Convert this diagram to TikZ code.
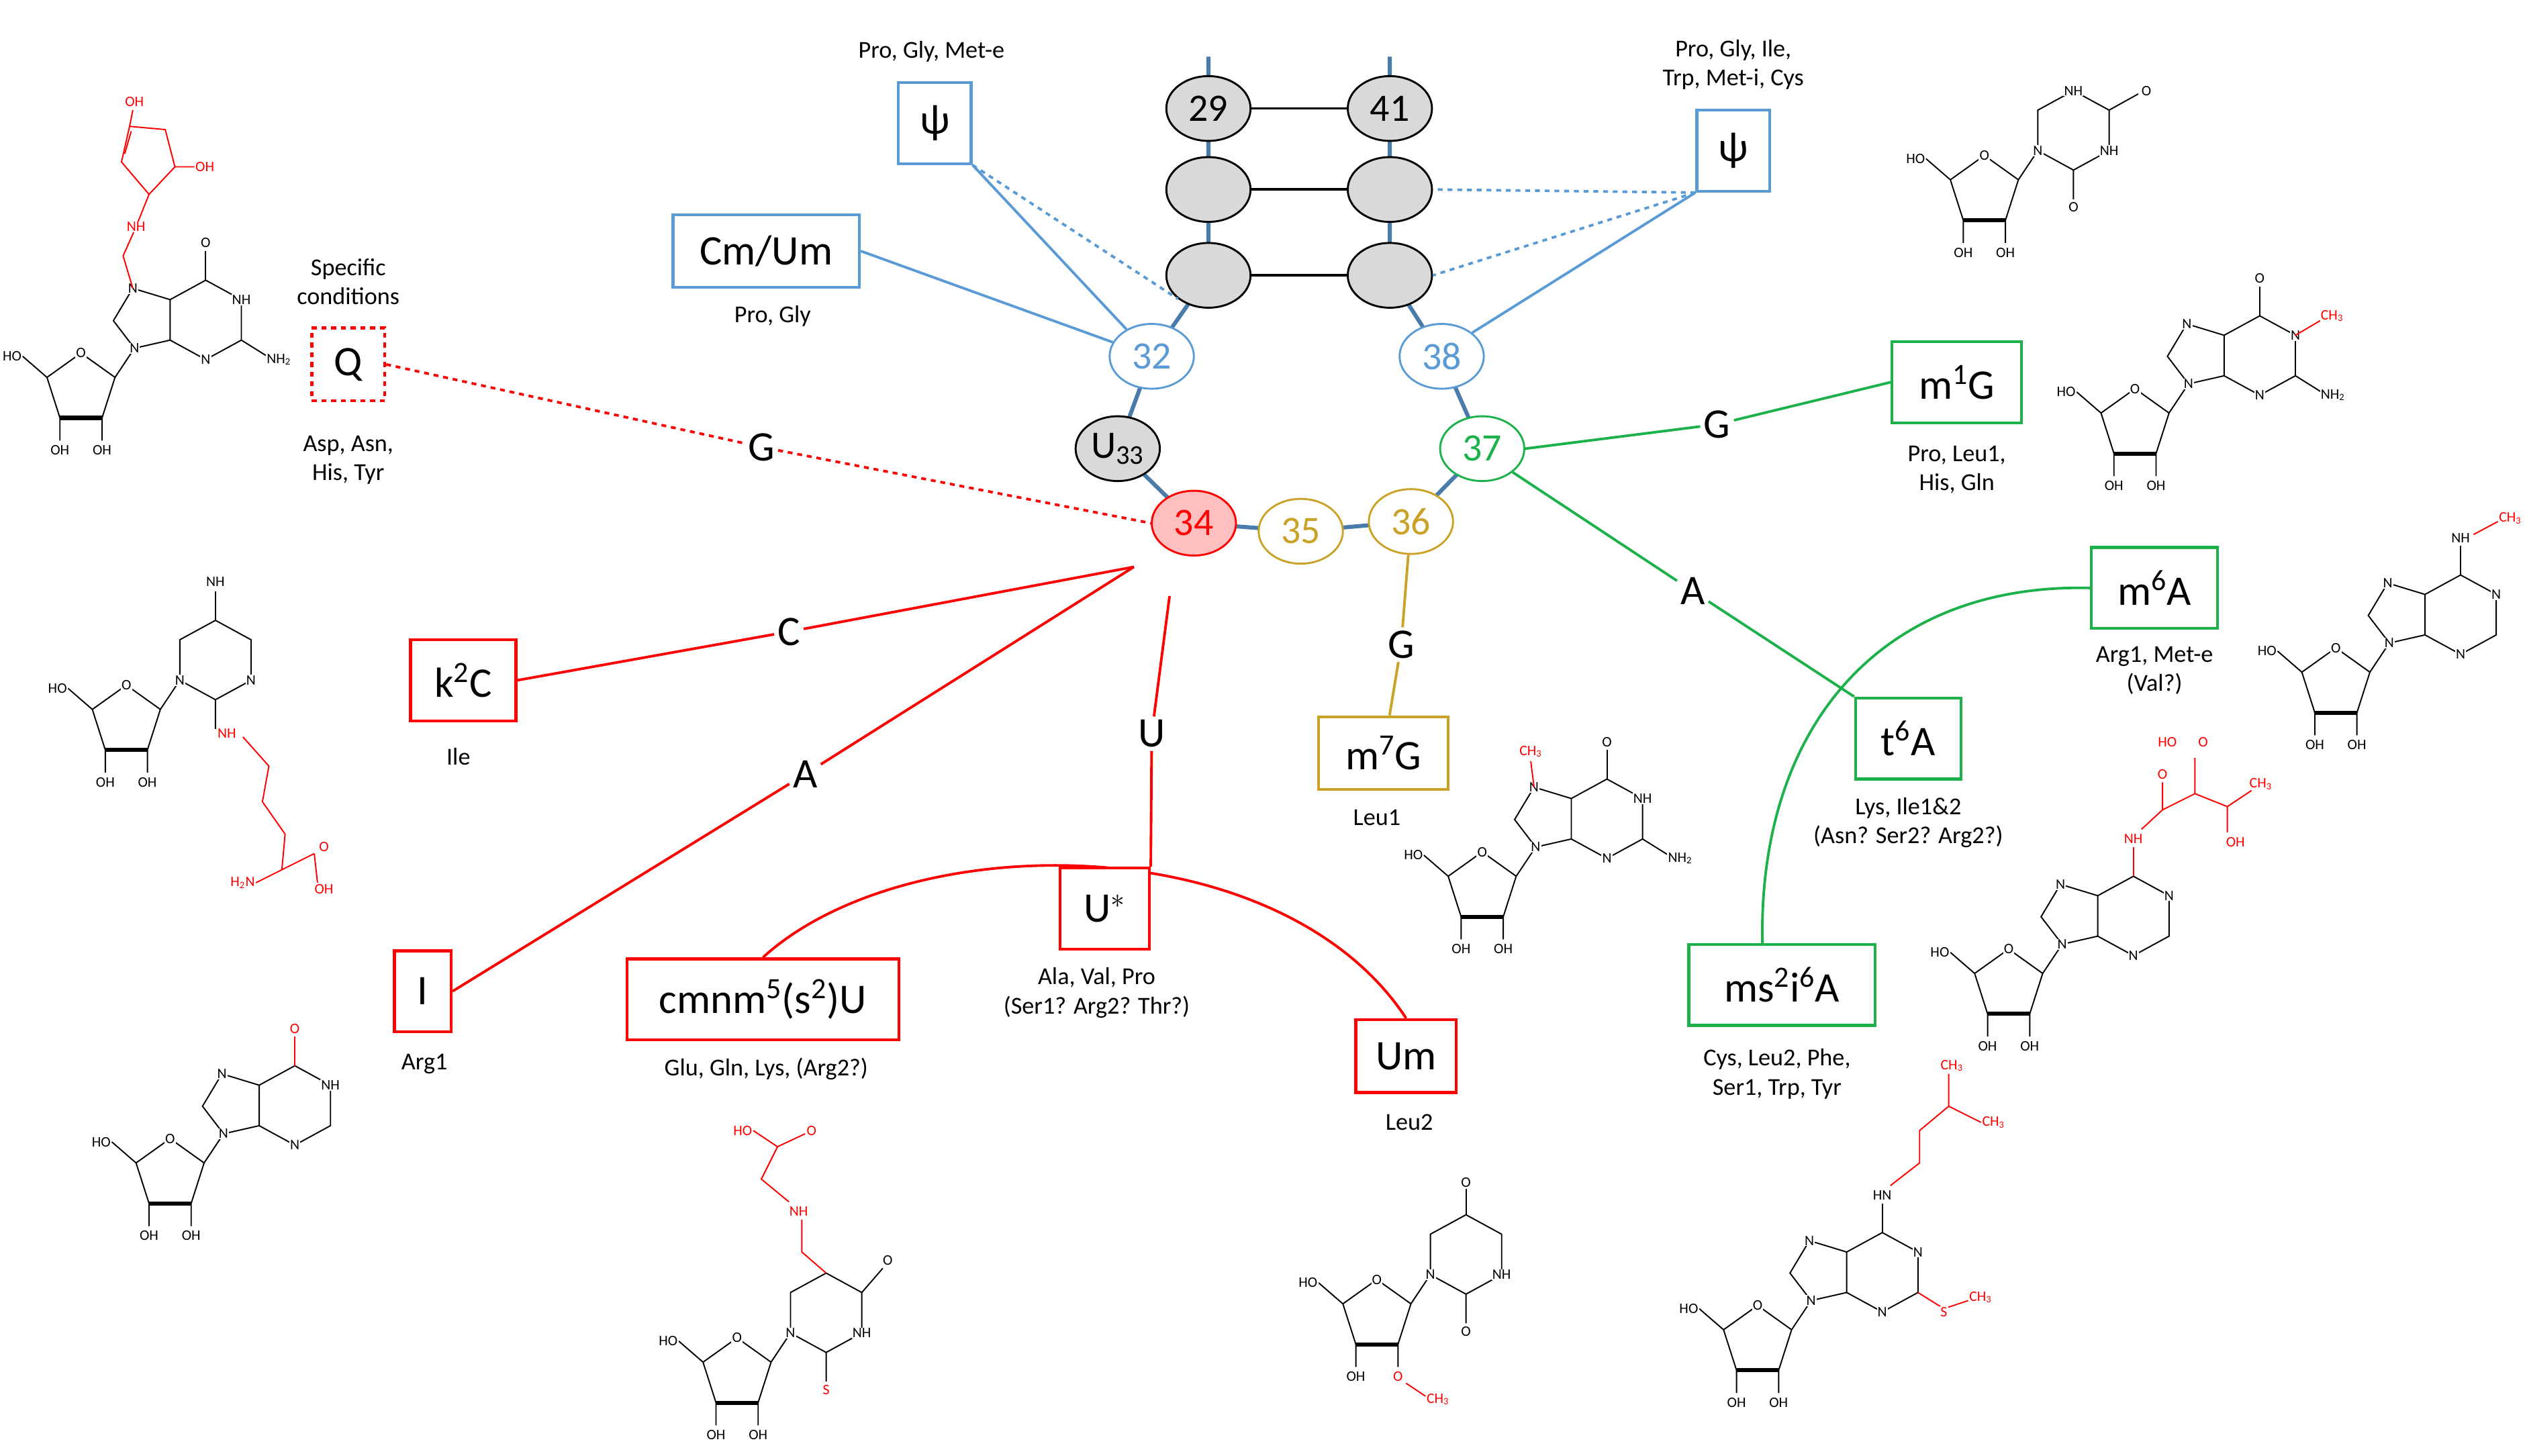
\documentclass[tikz,border=0pt]{standalone}
\usepackage{fontspec}
\usetikzlibrary{shapes.geometric}
\setmainfont{Carlito}
\begin{document}
\begin{tikzpicture}[x=1pt,y=-1pt,
 bl/.style={draw=blueM,line width=1.6pt},
 rd/.style={draw=redM,line width=1.6pt},
 gn/.style={draw=greenM,line width=1.6pt},
 gd/.style={draw=goldM,line width=1.6pt},
 box/.style={rectangle,line width=1.8pt,fill=white,font=\fontsize{26}{28}\selectfont,inner sep=0pt},
 ov/.style={ellipse,draw=black,fill=gray!30,line width=1.2pt,minimum width=52,minimum height=40,inner sep=0pt,font=\fontsize{24}{26}\selectfont},
 lab/.style={font=\fontsize{15}{18}\selectfont,align=center},
 big/.style={font=\fontsize{26}{28}\selectfont,fill=white,inner sep=2pt},
 ch/.style={font=\fontsize{9}{10}\selectfont,inner sep=0.5pt,fill=white},
 rch/.style={ch,text=redM},
 bd/.style={line width=0.8pt},
 rbd/.style={line width=0.8pt,draw=redM},
 rib/.pic={\draw[bd] (0,-22)--(21,-7)--(13,18)--(-13,18)--(-21,-7)--cycle (-21,-7)--(-36,-20) (-13,18)--(-13,32) (13,18)--(13,32) (21,-7)--(33,-25);
   \draw[line width=2.5pt] (-13,18)--(13,18);
   \node[ch] at (0,-22){O}; \node[ch,anchor=east] at (-36,-20){HO};
   \node[ch] at (-13,38){OH}; \node[ch] at (13,38){OH};},
 ribm/.pic={\draw[bd] (0,-22)--(21,-7)--(13,18)--(-13,18)--(-21,-7)--cycle (-21,-7)--(-36,-20) (-13,18)--(-13,32) (13,18)--(13,32) (21,-7)--(33,-25);
   \draw[line width=2.5pt] (-13,18)--(13,18);
   \node[ch] at (0,-22){O}; \node[ch,anchor=east] at (-36,-20){HO};
   \node[ch] at (-13,38){OH}; \node[rch] at (13,38){O};},
 pur/.pic={\draw[bd] (33,-25)--(55,-30)--(55,-55)--(32,-62)--(20,-42)--cycle (55,-55)--(77,-67)--(99,-55)--(99,-30)--(77,-18)--(55,-30);
   \node[ch] at (33,-25){N}; \node[ch] at (32,-62){N}; \node[ch] at (99,-55){N}; \node[ch] at (77,-18){N};},
 pyr/.pic={\draw[bd] (33,-25)--(55,-13)--(77,-25)--(77,-50)--(55,-62)--(33,-50)--cycle (55,-13)--(55,5);
   \node[ch] at (33,-25){N}; \node[ch] at (77,-25){N};},
]
\definecolor{blueM}{HTML}{5B9BD5}\definecolor{redM}{HTML}{FF0000}
\definecolor{greenM}{HTML}{1DB14B}\definecolor{goldM}{HTML}{C9A227}
\useasboundingbox (0,0) rectangle (1560,898.6);
% backbone
\draw[draw=blueM!80!black,line width=2.5pt] (746,35)--(746,170)--(711,220)--(690,277)--(737,323)--(803,328)--(871,322)--(915,277)--(890,220)--(858,170)--(858,35);
\foreach \y in {67,117,170} \draw[line width=1.5pt] (746,\y)--(858,\y);
\node[ov] (n29) at (746,67){29}; \node[ov] (n41) at (858,67){41};
\node[ov] (a1) at (746,117){}; \node[ov] (b1) at (858,117){};
\node[ov] (a2) at (746,170){}; \node[ov] (b2) at (858,170){};
\node[ov,draw=blueM,fill=white,text=blueM] (n32) at (711,220){32};
\node[ov] (n33) at (690,277){U\textsubscript{33}};
\node[ov,draw=redM,fill=red!25,text=redM] (n34) at (737,323){34};
\node[ov,draw=goldM,fill=white,text=goldM] (n35) at (803,328){35};
\node[ov,draw=goldM,fill=white,text=goldM] (n36) at (871,322){36};
\node[ov,draw=greenM,fill=white,text=greenM] (n37) at (915,277){37};
\node[ov,draw=blueM,fill=white,text=blueM] (n38) at (890,220){38};
% blue
\node[box,draw=blueM,minimum width=45,minimum height=50] (psiL) at (577,76){ψ};
\node[lab] at (575,32){Pro, Gly, Met-e};
\node[box,draw=blueM,minimum width=115,minimum height=45] (cm) at (473,155){Cm/Um};
\node[lab] at (477,195){Pro, Gly};
\node[box,draw=blueM,minimum width=45,minimum height=50] (psiR) at (1070,93){ψ};
\node[lab] at (1070,40){Pro, Gly, Ile,\\Trp, Met-i, Cys};
\draw[bl] (psiL.south east)--(n32); \draw[bl] (cm.east)--(n32);
\draw[bl,dashed] (psiL.south east)--(a2.south west);
\draw[bl,dashed] (psiR.south west)--(b1.east); \draw[bl,dashed] (psiR.south west)--(b2.east);
\draw[bl] (psiR.south west)--(n38.north east);
% red
\node[box,draw=redM,dashed,minimum width=45,minimum height=45] (q) at (215,225){Q};
\node[lab] at (215,174){Specific\\conditions};
\node[lab] at (215,284){Asp, Asn,\\His, Tyr};
\node[big] (gQ) at (470,276){G};
\draw[rd,dashed] (q.east)--(gQ)--(n34.west);
\coordinate (r0) at (700,350);
\node[big] (cC) at (487,390){C};
\node[box,draw=redM,minimum width=65,minimum height=50] (k2c) at (286,420){k\textsuperscript{2}C};
\node[lab] at (283,467){Ile};
\draw[rd] (r0)--(cC)--(k2c.east);
\node[big] (aA) at (497,478){A};
\node[box,draw=redM,minimum width=35,minimum height=50] (ii) at (261,612){I};
\node[lab] at (262,657){Arg1};
\draw[rd] (r0)--(aA)--(ii.east);
\node[big] (uU) at (711,453){U};
\node[box,draw=redM,minimum width=55,minimum height=50] (us) at (682,561){U$^{*}$};
\node[lab] at (677,613){Ala, Val, Pro\\(Ser1? Arg2? Thr?)};
\draw[rd] (722,368)--(uU)--(us.north east);
\node[box,draw=redM,minimum width=168,minimum height=50] (cmn) at (471,617){cmnm\textsuperscript{5}(s\textsuperscript{2})U};
\node[lab] at (473,660){Glu, Gln, Lys, (Arg2?)};
\node[box,draw=redM,minimum width=62,minimum height=45] (um) at (868,652){Um};
\node[lab] at (870,693){Leu2};
\draw[rd] (cmn.north)..controls (560,510) and (790,510) ..(um.north);
\node[box,draw=redM,minimum width=55,minimum height=50] at (682,561){U$^{*}$};
% gold
\node[big] (gG) at (865,398){G};
\node[box,draw=goldM,minimum width=80,minimum height=45] (m7g) at (854,465){m\textsuperscript{7}G};
\node[lab] at (850,505){Leu1};
\draw[gd] (n36)--(gG)--(m7g);
% green
\node[big] (g1) at (1060,262){G};
\node[box,draw=greenM,minimum width=80,minimum height=50] (m1g) at (1208,236){m\textsuperscript{1}G};
\node[lab] at (1208,290){Pro, Leu1,\\His, Gln};
\draw[gn] (n37.east)--(g1)--(m1g.west);
\node[big] (aG) at (1045,365){A};
\node[box,draw=greenM,minimum width=78,minimum height=50] (m6a) at (1330,363){m\textsuperscript{6}A};
\node[lab] at (1330,414){Arg1, Met-e\\(Val?)};
\node[box,draw=greenM,minimum width=115,minimum height=50] (ms) at (1100,608){ms\textsuperscript{2}i\textsuperscript{6}A};
\node[lab] at (1097,663){Cys, Leu2, Phe,\\Ser1, Trp, Tyr};
\coordinate (msT) at (1088,583);
\draw[gn] (m6a.west)..controls (1160,360) and (1085,450) ..(msT);
\node[box,draw=greenM,minimum width=65,minimum height=50] (t6a) at (1178,456){t\textsuperscript{6}A};
\node[lab] at (1178,508){Lys, Ile1\&2\\(Asn? Ser2? Arg2?)};
\draw[gn] (n37.south east)--(aG)--(t6a.north west);
% ---- structures ----
% Q
\begin{scope}[shift={(50,240)}]
\pic{rib}; \pic{pur};
\draw[bd] (77,-67)--(77,-85); \node[ch] at (77,-90){O}; \node[ch] at (99,-55){NH};
\draw[bd] (99,-30)--(115,-20); \node[ch,anchor=west] at (114,-18){NH\textsubscript{2}};
\draw[rbd] (32,-62)--(26,-82)--(34,-100)--(42,-120);
\node[rch] at (34,-100){NH};
\draw[rbd] (42,-120)--(25,-140)--(30,-162)--(52,-160)--(58,-137)--cycle (30,-162)--(32,-172) (58,-137)--(70,-137);
\draw[rbd] (27,-145)--(31,-159);
\node[rch] at (33,-177){OH}; \node[rch,anchor=west] at (70,-137){OH};
\end{scope}
% pseudouridine
\begin{scope}[shift={(1225,118)}]
\pic{rib}; \pic{pyr};
\node[ch] at (55,10){O}; \node[ch] at (77,-25){NH}; \node[ch] at (55,-62){NH};
\draw[bd] (77,-50)--(95,-60); \node[ch] at (100,-62){O};
\end{scope}
% m1G
\begin{scope}[shift={(1318,262)}]
\pic{rib}; \pic{pur};
\draw[bd] (77,-67)--(77,-85); \node[ch] at (77,-90){O};
\draw[rbd] (99,-55)--(116,-65); \node[rch,anchor=west] at (114,-67){CH\textsubscript{3}};
\draw[bd] (99,-30)--(115,-20); \node[ch,anchor=west] at (114,-18){NH\textsubscript{2}};
\end{scope}
% k2C
\begin{scope}[shift={(78,445)}]
\pic{rib}; \pic{pyr};
\draw[bd] (55,-62)--(55,-80); \node[ch] at (55,-86){NH};
\node[rch] at (62,8){NH};
\draw[rbd] (72,10)--(88,28)--(84,50)--(98,70)--(96,92);
\draw[rbd] (96,92)--(80,100) (96,92)--(116,82) (116,82)--(118,100);
\node[rch,anchor=east] at (80,100){H\textsubscript{2}N}; \node[rch] at (122,78){O}; \node[rch] at (122,104){OH};
\end{scope}
% m6A
\begin{scope}[shift={(1442,422)}]
\pic{rib}; \pic{pur};
\draw[bd] (77,-67)--(77,-85); \node[ch] at (77,-90){NH};
\draw[rbd] (85,-92)--(100,-100); \node[rch,anchor=west] at (100,-102){CH\textsubscript{3}};
\end{scope}
% t6A
\begin{scope}[shift={(1240,608)}]
\pic{rib}; \pic{pur};
\draw[rbd] (77,-67)--(77,-85); \node[rch] at (77,-90){NH};
\draw[rbd] (82,-96)--(95,-108)--(95,-125) (95,-108)--(115,-118)--(115,-140) (115,-118)--(135,-110)--(150,-120) (135,-110)--(135,-94);
\node[rch] at (95,-130){O}; \node[rch] at (98,-150){HO}; \node[rch] at (120,-150){O};
\node[rch,anchor=west] at (148,-124){CH\textsubscript{3}}; \node[rch] at (140,-88){OH};
\end{scope}
% m7G
\begin{scope}[shift={(915,548)}]
\pic{rib}; \pic{pur};
\draw[rbd] (32,-62)--(30,-78); \node[rch] at (30,-84){CH\textsubscript{3}};
\draw[bd] (77,-67)--(77,-85); \node[ch] at (77,-90){O}; \node[ch] at (99,-55){NH};
\draw[bd] (99,-30)--(115,-20); \node[ch,anchor=west] at (114,-18){NH\textsubscript{2}};
\end{scope}
% inosine
\begin{scope}[shift={(105,725)}]
\pic{rib}; \pic{pur};
\draw[rbd] (77,-67)--(77,-85); \node[rch] at (77,-90){O}; \node[ch] at (99,-55){NH};
\end{scope}
% cmnm5s2U
\begin{scope}[shift={(455,848)}]
\pic{rib}; \pic{pyr};
\node[rch] at (55,10){S}; \node[ch] at (77,-25){NH};
\draw[bd] (77,-50)--(90,-65); \node[ch] at (93,-70){O};
\draw[rbd] (55,-62)--(40,-75)--(40,-95); \node[rch] at (38,-100){NH};
\draw[rbd] (32,-106)--(15,-120)--(25,-140) (25,-140)--(10,-150) (25,-140)--(42,-148);
\node[rch,anchor=east] at (10,-150){HO}; \node[rch] at (46,-150){O};
\end{scope}
% Um
\begin{scope}[shift={(850,812)}]
\pic{ribm}; \pic{pyr};
\node[ch] at (55,10){O}; \node[ch] at (77,-25){NH};
\draw[bd] (55,-62)--(55,-78); \node[ch] at (55,-82){O};
\draw[rbd] (18,42)--(30,50); \node[rch,anchor=west] at (30,52){CH\textsubscript{3}};
\end{scope}
% ms2i6A
\begin{scope}[shift={(1085,828)}]
\pic{rib}; \pic{pur};
\draw[bd] (77,-67)--(77,-85); \node[ch] at (77,-90){HN};
\draw[rbd] (82,-96)--(100,-110)--(100,-130)--(118,-145)--(118,-165) (118,-145)--(138,-135);
\node[rch] at (120,-170){CH\textsubscript{3}}; \node[rch,anchor=west] at (138,-135){CH\textsubscript{3}};
\draw[rbd] (99,-30)--(115,-20)--(130,-25); \node[rch] at (115,-18){S}; \node[rch,anchor=west] at (130,-27){CH\textsubscript{3}};
\end{scope}
\end{tikzpicture}
\end{document}
